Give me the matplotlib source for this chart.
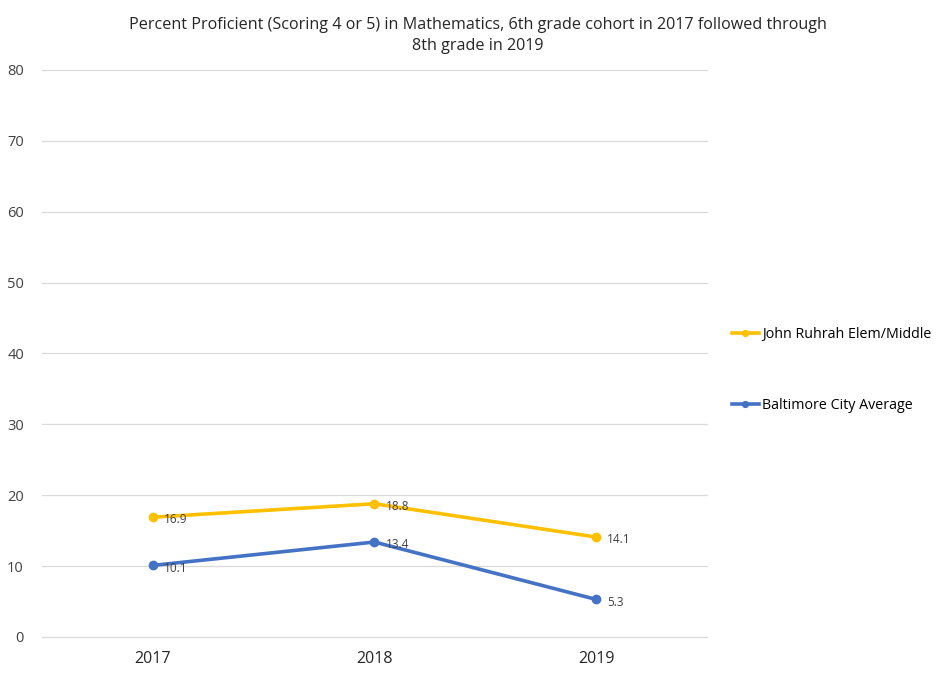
import numpy as np
import matplotlib.pyplot as plt

years = ["2017", "2018", "2019"]
ruhrah = [16.9, 18.8, 14.1]
baltimore = [10.1, 13.4, 5.3]
series_names = ["John Ruhrah Elem/Middle", "Baltimore City Average"]
series_colors = ["#FFC000", "#4472C4"]

plt.rcParams['font.family'] = ['Open Sans', 'DejaVu Sans']

fig = plt.figure(figsize=(9.41, 6.73), dpi=100)
ax = fig.add_axes([0.0446, 0.0535, 0.7067, 0.8425])

x = np.arange(len(years))
handles = []
for vals, name, col in zip([ruhrah, baltimore], series_names, series_colors):
    h, = ax.plot(x, vals, color=col, lw=2.6, marker='o', ms=6, label=name)
    handles.append(h)
    for xi, v in zip(x, vals):
        ax.annotate(f"{v}", (xi, v), xytext=(8, -2), textcoords='offset points',
                    fontsize=8.5, color='#404040', va='center', ha='left')

ax.set_xlim(-0.5, 2.5)
ax.set_ylim(0, 80)
ax.set_yticks(range(0, 81, 10))
ax.set_xticks(x)
ax.set_xticklabels(years, fontsize=11.5, color='#262626')
ax.tick_params(axis='y', labelsize=10.5, colors='#404040', length=0, pad=13)
ax.tick_params(axis='x', length=0, pad=10)
ax.grid(axis='y', color='#D9D9D9', lw=0.9)
ax.set_axisbelow(True)
for s in ax.spines.values():
    s.set_visible(False)
for gl in ax.get_ygridlines():
    gl.set_clip_on(False)

fig.text(0.5075, 0.975, "Percent Proficient (Scoring 4 or 5) in Mathematics, 6th grade cohort in 2017 followed through\n8th grade in 2019",
         ha='center', va='top', fontsize=11.6, color='#262626', linespacing=1.45)

fig.legend(handles=handles, loc='center left', bbox_to_anchor=(0.764, 0.45),
           frameon=False, fontsize=10.3, handlelength=1.9, handletextpad=0.2,
           labelspacing=3.9, markerscale=0.7)

fig.savefig("out.png", dpi=100)
